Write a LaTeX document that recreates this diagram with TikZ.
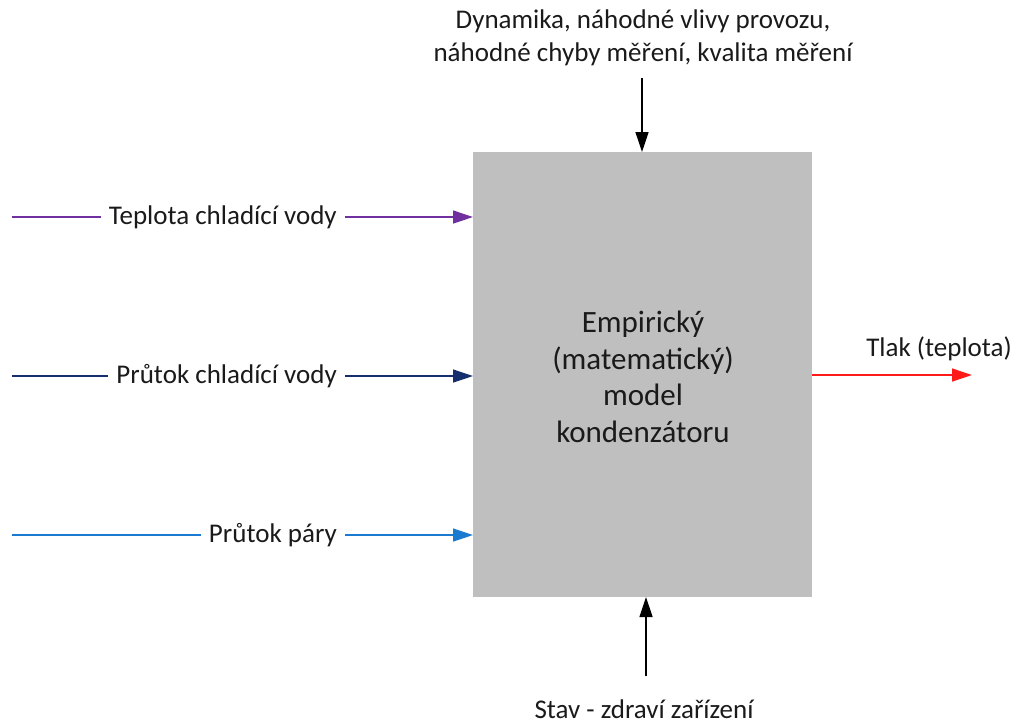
\documentclass[tikz,border=0pt]{standalone}
\usepackage{fontspec}
\setmainfont{Carlito}
\usetikzlibrary{arrows.meta}
\definecolor{boxgray}{HTML}{BFBFBF}
\definecolor{cpurple}{HTML}{7030A0}
\definecolor{cnavy}{HTML}{142E6E}
\definecolor{cblue}{HTML}{1A7ACF}
\definecolor{cred}{HTML}{FF1A1A}
\definecolor{ctext}{HTML}{1A1A1A}
\begin{document}
\begin{tikzpicture}[x=1pt,y=-1pt,
  lbl/.style={font=\fontsize{27}{33}\selectfont, text=ctext, inner sep=0pt},
  gaplbl/.style={lbl, fill=white, inner xsep=8pt, inner ysep=2pt, anchor=east},
  conn/.style={line width=1.3pt, -{Triangle[length=20pt,width=13pt]}}]
\useasboundingbox (0,0) rectangle (1014,724);
% box
\node[fill=boxgray, minimum width=339pt, minimum height=445pt, inner sep=0pt,
      anchor=north west] (box) at (473,152) {};
\node[font=\fontsize{31}{36.5}\selectfont, text=ctext, align=center, inner sep=0pt] (boxtxt) at (643,377)
  {Empirický\\(matematický)\\model\\kondenzátoru};
% left inputs
\coordinate (s1) at (12,217);
\coordinate (s2) at (12,376);
\coordinate (s3) at (12,535);
\coordinate (e1) at (473,217);
\coordinate (e2) at (473,376);
\coordinate (e3) at (473,535);
\draw[conn, draw=cpurple, fill=cpurple] (s1) -- (e1);
\draw[conn, draw=cnavy, fill=cnavy] (s2) -- (e2);
\draw[conn, draw=cblue, fill=cblue] (s3) -- (e3);
\node[gaplbl] (t1) at (345,217) {Teplota chladící vody};
\node[gaplbl] (t2) at (345,376) {Průtok chladící vody};
\node[gaplbl] (t3) at (345,535) {Průtok páry};
% output
\coordinate (o1) at (812,375);
\coordinate (o2) at (972,375);
\draw[conn, draw=cred, fill=cred] (o1) -- (o2);
\node[lbl, anchor=east] (tout) at (1012,349) {Tlak (teplota)};
% top
\node[lbl, align=center] (top) at (643,38)
  {Dynamika, náhodné vlivy provozu,\\náhodné chyby měření, kvalita měření};
\coordinate (tA) at (642,78);
\coordinate (tB) at (642,152);
\draw[conn, draw=black, fill=black] (tA) -- (tB);
% bottom
\node[lbl] (bot) at (644,709) {Stav - zdraví zařízení};
\coordinate (bA) at (646,676);
\coordinate (bB) at (646,597);
\draw[conn, draw=black, fill=black] (bA) -- (bB);
\end{tikzpicture}
\end{document}
